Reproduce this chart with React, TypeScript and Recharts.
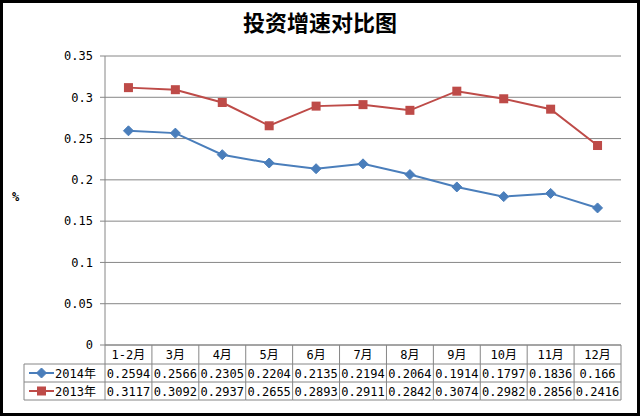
import { FC } from "react";
import {
  LineChart,
  Line,
  XAxis,
  YAxis,
  CartesianGrid,
} from "recharts";

const months = ["1-2月", "3月", "4月", "5月", "6月", "7月", "8月", "9月", "10月", "11月", "12月"];
const growth2014 = [0.2594, 0.2566, 0.2305, 0.2204, 0.2135, 0.2194, 0.2064, 0.1914, 0.1797, 0.1836, 0.166];
const growth2013 = [0.3117, 0.3092, 0.2937, 0.2655, 0.2893, 0.2911, 0.2842, 0.3074, 0.2982, 0.2856, 0.2416];
const yTicks = [0, 0.05, 0.1, 0.15, 0.2, 0.25, 0.3, 0.35];

const data = months.map((m, i) => ({
  month: m,
  y2014: growth2014[i],
  y2013: growth2013[i],
}));

const BLUE = "#4A7EBB";
const RED = "#BE4B48";
const GRID = "#868686";
const FONT = "'DejaVu Sans Mono', 'Noto Sans CJK SC', monospace";

const W = 640;
const H = 417;
const PLOT_LEFT = 105;
const PLOT_RIGHT = 621;
const PLOT_TOP = 56;
const PLOT_BOTTOM = 345;
const BAND = (PLOT_RIGHT - PLOT_LEFT) / months.length;
const ROW_H = [19, 18, 18];
const LEGEND_LEFT = 24;

const Diamond = (props: any) => {
  const { cx, cy, fill } = props;
  if (cx == null || cy == null) return null;
  const r = 5;
  return (
    <path
      d={`M${cx},${cy - r}L${cx + r},${cy}L${cx},${cy + r}L${cx - r},${cy}Z`}
      fill={fill}
      stroke={fill}
    />
  );
};

const Square = (props: any) => {
  const { cx, cy, fill } = props;
  if (cx == null || cy == null) return null;
  const s = 9;
  return <rect x={cx - s / 2} y={cy - s / 2} width={s} height={s} fill={fill} />;
};

// header + data table drawn per category tick
const TableTick = (props: any) => {
  const { x, y, payload } = props;
  const i = payload.index;
  const left = x - BAND / 2;
  const right = x + BAND / 2;
  const r1 = y + ROW_H[0];
  const r2 = r1 + ROW_H[1];
  const r3 = r2 + ROW_H[2];
  return (
    <g fontFamily={FONT} fontSize={12} fill="#000">
      <line x1={right} y1={y} x2={right} y2={r3} stroke={GRID} />
      <line x1={left} y1={r1} x2={right} y2={r1} stroke={GRID} />
      <line x1={left} y1={r2} x2={right} y2={r2} stroke={GRID} />
      <line x1={left} y1={r3} x2={right} y2={r3} stroke={GRID} />
      <text x={x} y={y + 14} textAnchor="middle">{months[i]}</text>
      <text x={x} y={r1 + 13.5} textAnchor="middle">{growth2014[i]}</text>
      <text x={x} y={r2 + 13.5} textAnchor="middle">{growth2013[i]}</text>
      {i === 0 && (
        <g>
          <line x1={left} y1={y} x2={left} y2={r3} stroke={GRID} />
          <line x1={LEGEND_LEFT} y1={r1} x2={left} y2={r1} stroke={GRID} />
          <line x1={LEGEND_LEFT} y1={r2} x2={left} y2={r2} stroke={GRID} />
          <line x1={LEGEND_LEFT} y1={r3} x2={left} y2={r3} stroke={GRID} />
          <line x1={LEGEND_LEFT} y1={r1} x2={LEGEND_LEFT} y2={r3} stroke={GRID} />
          <line x1={29} y1={r1 + 9} x2={54} y2={r1 + 9} stroke={BLUE} strokeWidth={2} />
          <Diamond cx={41.5} cy={r1 + 9} fill={BLUE} />
          <text x={55} y={r1 + 13.5}>2014年</text>
          <line x1={29} y1={r2 + 9} x2={54} y2={r2 + 9} stroke={RED} strokeWidth={2} />
          <Square cx={41.5} cy={r2 + 9} fill={RED} />
          <text x={55} y={r2 + 13.5}>2013年</text>
        </g>
      )}
    </g>
  );
};

const App: FC = () => {
  const yAxisWidth = 60;
  const xAxisHeight = ROW_H[0] + ROW_H[1] + ROW_H[2];
  return (
    <div style={{ position: "absolute", left: 0, top: 0, width: W, height: H, background: "#fff" }}>
      <div
        style={{
          position: "absolute",
          left: 0,
          top: 6,
          width: W,
          textAlign: "center",
          fontFamily: "'Noto Sans CJK SC', sans-serif",
          fontWeight: "bold",
          fontSize: 22,
          lineHeight: "30px",
        }}
      >
        投资增速对比图
      </div>
      <div
        style={{
          position: "absolute",
          left: 12,
          top: 190,
          fontFamily: FONT,
          fontSize: 12,
          fontWeight: "bold",
        }}
      >
        %
      </div>
      <div style={{ position: "absolute", left: 0, top: 0 }}>
        <LineChart
          width={W}
          height={H}
          data={data}
          margin={{
            top: PLOT_TOP,
            right: W - PLOT_RIGHT,
            bottom: H - PLOT_BOTTOM - xAxisHeight,
            left: PLOT_LEFT - yAxisWidth,
          }}
        >
          <CartesianGrid vertical={false} stroke={GRID} strokeWidth={1} />
          <XAxis
            dataKey="month"
            height={xAxisHeight}
            padding={{ left: BAND / 2, right: BAND / 2 }}
            axisLine={{ stroke: GRID }}
            tickLine={false}
            tickSize={0}
            tickMargin={0}
            interval={0}
            tick={<TableTick />}
          />
          <YAxis
            width={yAxisWidth}
            domain={[0, 0.35]}
            ticks={yTicks}
            axisLine={{ stroke: GRID }}
            tickLine={{ stroke: GRID }}
            tickSize={5}
            tickMargin={7}
            tick={{ fontFamily: FONT, fontSize: 12, fill: "#000" }}
          />
          <Line
            dataKey="y2014"
            stroke={BLUE}
            strokeWidth={2}
            dot={<Diamond fill={BLUE} />}
            isAnimationActive={false}
          />
          <Line
            dataKey="y2013"
            stroke={RED}
            strokeWidth={2}
            dot={<Square fill={RED} />}
            isAnimationActive={false}
          />
        </LineChart>
      </div>
      <div
        style={{
          position: "absolute",
          left: 0,
          top: 0,
          width: W,
          height: 416,
          boxSizing: "border-box",
          border: "3px solid #000",
          pointerEvents: "none",
        }}
      />
    </div>
  );
};

export default App;
